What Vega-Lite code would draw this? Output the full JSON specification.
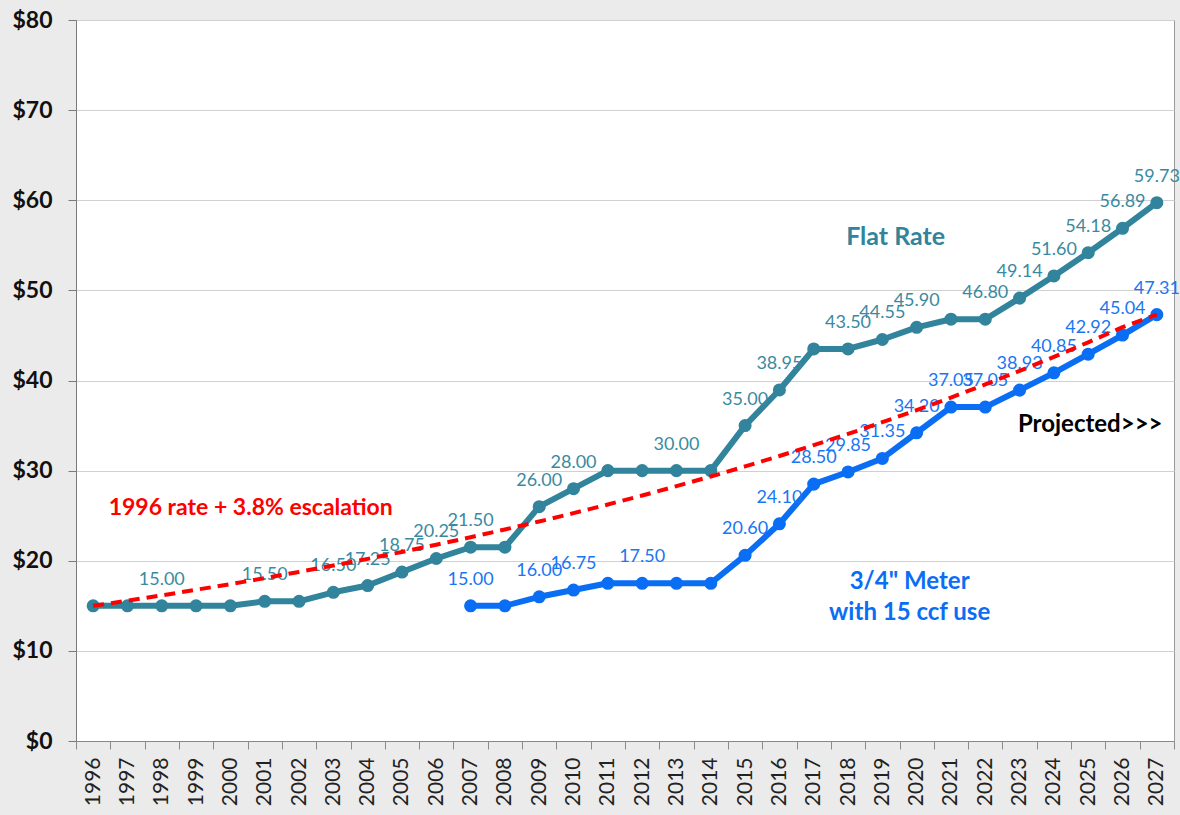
{
  "$schema": "https://vega.github.io/schema/vega-lite/v6.json",
  "width": 1098,
  "height": 721,
  "autosize": {"type": "none"},
  "padding": {"left": 76, "top": 20, "right": 6, "bottom": 74},
  "background": "#ebebeb",
  "view": {"fill": "white", "stroke": "#9a9a9a", "strokeWidth": 1},
  "config": {"font": "Lato"},
  "resolve": {"scale": {"color": "independent"}},
  "datasets": {
    "rates": [
      {"year": "1996", "series": "Flat Rate", "value": 15.00, "label": null},
      {"year": "1997", "series": "Flat Rate", "value": 15.00, "label": null},
      {"year": "1998", "series": "Flat Rate", "value": 15.00, "label": "15.00"},
      {"year": "1999", "series": "Flat Rate", "value": 15.00, "label": null},
      {"year": "2000", "series": "Flat Rate", "value": 15.00, "label": null},
      {"year": "2001", "series": "Flat Rate", "value": 15.50, "label": "15.50"},
      {"year": "2002", "series": "Flat Rate", "value": 15.50, "label": null},
      {"year": "2003", "series": "Flat Rate", "value": 16.50, "label": "16.50"},
      {"year": "2004", "series": "Flat Rate", "value": 17.25, "label": "17.25"},
      {"year": "2005", "series": "Flat Rate", "value": 18.75, "label": "18.75"},
      {"year": "2006", "series": "Flat Rate", "value": 20.25, "label": "20.25"},
      {"year": "2007", "series": "Flat Rate", "value": 21.50, "label": "21.50"},
      {"year": "2008", "series": "Flat Rate", "value": 21.50, "label": null},
      {"year": "2009", "series": "Flat Rate", "value": 26.00, "label": "26.00"},
      {"year": "2010", "series": "Flat Rate", "value": 28.00, "label": "28.00"},
      {"year": "2011", "series": "Flat Rate", "value": 30.00, "label": null},
      {"year": "2012", "series": "Flat Rate", "value": 30.00, "label": null},
      {"year": "2013", "series": "Flat Rate", "value": 30.00, "label": "30.00"},
      {"year": "2014", "series": "Flat Rate", "value": 30.00, "label": null},
      {"year": "2015", "series": "Flat Rate", "value": 35.00, "label": "35.00"},
      {"year": "2016", "series": "Flat Rate", "value": 38.95, "label": "38.95"},
      {"year": "2017", "series": "Flat Rate", "value": 43.50, "label": null},
      {"year": "2018", "series": "Flat Rate", "value": 43.50, "label": "43.50"},
      {"year": "2019", "series": "Flat Rate", "value": 44.55, "label": "44.55"},
      {"year": "2020", "series": "Flat Rate", "value": 45.90, "label": "45.90"},
      {"year": "2021", "series": "Flat Rate", "value": 46.80, "label": null},
      {"year": "2022", "series": "Flat Rate", "value": 46.80, "label": "46.80"},
      {"year": "2023", "series": "Flat Rate", "value": 49.14, "label": "49.14"},
      {"year": "2024", "series": "Flat Rate", "value": 51.60, "label": "51.60"},
      {"year": "2025", "series": "Flat Rate", "value": 54.18, "label": "54.18"},
      {"year": "2026", "series": "Flat Rate", "value": 56.89, "label": "56.89"},
      {"year": "2027", "series": "Flat Rate", "value": 59.73, "label": "59.73"},
      {"year": "2007", "series": "Meter", "value": 15.00, "label": "15.00"},
      {"year": "2008", "series": "Meter", "value": 15.00, "label": null},
      {"year": "2009", "series": "Meter", "value": 16.00, "label": "16.00"},
      {"year": "2010", "series": "Meter", "value": 16.75, "label": "16.75"},
      {"year": "2011", "series": "Meter", "value": 17.50, "label": null},
      {"year": "2012", "series": "Meter", "value": 17.50, "label": "17.50"},
      {"year": "2013", "series": "Meter", "value": 17.50, "label": null},
      {"year": "2014", "series": "Meter", "value": 17.50, "label": null},
      {"year": "2015", "series": "Meter", "value": 20.60, "label": "20.60"},
      {"year": "2016", "series": "Meter", "value": 24.10, "label": "24.10"},
      {"year": "2017", "series": "Meter", "value": 28.50, "label": "28.50"},
      {"year": "2018", "series": "Meter", "value": 29.85, "label": "29.85"},
      {"year": "2019", "series": "Meter", "value": 31.35, "label": "31.35"},
      {"year": "2020", "series": "Meter", "value": 34.20, "label": "34.20"},
      {"year": "2021", "series": "Meter", "value": 37.05, "label": "37.05"},
      {"year": "2022", "series": "Meter", "value": 37.05, "label": "37.05"},
      {"year": "2023", "series": "Meter", "value": 38.93, "label": "38.93"},
      {"year": "2024", "series": "Meter", "value": 40.85, "label": "40.85"},
      {"year": "2025", "series": "Meter", "value": 42.92, "label": "42.92"},
      {"year": "2026", "series": "Meter", "value": 45.04, "label": "45.04"},
      {"year": "2027", "series": "Meter", "value": 47.31, "label": "47.31"}
    ],
    "escalation": [
      {"year": "1996", "value": 15.00}, {"year": "1997", "value": 15.57},
      {"year": "1998", "value": 16.16}, {"year": "1999", "value": 16.78},
      {"year": "2000", "value": 17.41}, {"year": "2001", "value": 18.07},
      {"year": "2002", "value": 18.76}, {"year": "2003", "value": 19.47},
      {"year": "2004", "value": 20.21}, {"year": "2005", "value": 20.98},
      {"year": "2006", "value": 21.78}, {"year": "2007", "value": 22.61},
      {"year": "2008", "value": 23.47}, {"year": "2009", "value": 24.36},
      {"year": "2010", "value": 25.28}, {"year": "2011", "value": 26.24},
      {"year": "2012", "value": 27.24}, {"year": "2013", "value": 28.28},
      {"year": "2014", "value": 29.35}, {"year": "2015", "value": 30.47},
      {"year": "2016", "value": 31.62}, {"year": "2017", "value": 32.83},
      {"year": "2018", "value": 34.07}, {"year": "2019", "value": 35.37},
      {"year": "2020", "value": 36.71}, {"year": "2021", "value": 38.11},
      {"year": "2022", "value": 39.56}, {"year": "2023", "value": 41.06},
      {"year": "2024", "value": 42.62}, {"year": "2025", "value": 44.24},
      {"year": "2026", "value": 45.92}, {"year": "2027", "value": 47.31}
    ]
  },
  "encoding": {
    "x": {
      "field": "year",
      "type": "ordinal",
      "scale": {
        "type": "band",
        "paddingInner": 0,
        "paddingOuter": 0,
        "domain": ["1996","1997","1998","1999","2000","2001","2002","2003","2004","2005","2006","2007","2008","2009","2010","2011","2012","2013","2014","2015","2016","2017","2018","2019","2020","2021","2022","2023","2024","2025","2026","2027"]
      },
      "axis": {
        "title": null,
        "tickBand": "extent",
        "labelAngle": -90,
        "labelAlign": "right",
        "labelBaseline": "middle",
        "labelFont": "Lato",
        "labelFontSize": 21,
        "labelColor": "#222222",
        "labelPadding": 8,
        "tickSize": 8,
        "tickColor": "#8a8a8a",
        "domainColor": "#8a8a8a",
        "grid": false
      }
    },
    "y": {
      "field": "value",
      "type": "quantitative",
      "scale": {"domain": [0, 80], "nice": false},
      "axis": {
        "title": null,
        "values": [0, 10, 20, 30, 40, 50, 60, 70, 80],
        "format": "$.0f",
        "labelFont": "Lato",
        "labelFontWeight": "bold",
        "labelFontSize": 23,
        "labelColor": "#111111",
        "labelPadding": 16,
        "tickSize": 8,
        "tickColor": "#7a7a7a",
        "domainColor": "#7a7a7a",
        "gridColor": "#d0d0d0",
        "gridWidth": 1
      }
    }
  },
  "layer": [
    {
      "data": {"name": "rates"},
      "mark": {"type": "line", "strokeWidth": 6, "strokeJoin": "round"},
      "encoding": {
        "color": {"field": "series", "type": "nominal", "legend": null,
          "scale": {"domain": ["Flat Rate", "Meter"], "range": ["#31849B", "#0A6EF5"]}},
        "detail": {"field": "series"}
      }
    },
    {
      "data": {"name": "rates"},
      "mark": {"type": "point", "filled": true, "opacity": 1, "size": 170},
      "encoding": {
        "color": {"field": "series", "type": "nominal", "legend": null,
          "scale": {"domain": ["Flat Rate", "Meter"], "range": ["#31849B", "#0A6EF5"]}}
      }
    },
    {
      "data": {"name": "rates"},
      "transform": [{"filter": "datum.label != null"}],
      "mark": {"type": "text", "dy": -26, "fontSize": 18, "font": "Lato", "baseline": "middle", "align": "center"},
      "encoding": {
        "text": {"field": "label"},
        "color": {"field": "series", "type": "nominal", "legend": null,
          "scale": {"domain": ["Flat Rate", "Meter"], "range": ["#3A8A9F", "#1A76F2"]}}
      }
    },
    {
      "data": {"name": "escalation"},
      "mark": {"type": "line", "color": "#FF0000", "strokeWidth": 4, "strokeDash": [11, 7]},
      "encoding": {}
    },
    {
      "data": {"values": [{"year": "2020", "value": 55.9, "text": "Flat Rate"}]},
      "mark": {"type": "text", "font": "Lato", "fontWeight": "bold", "fontSize": 25, "baseline": "middle", "align": "center", "dx": -21, "color": "#31849B"},
      "encoding": {"text": {"field": "text"}}
    },
    {
      "data": {"values": [
        {"year": "2020", "value": 17.6, "text": "3/4\" Meter"},
        {"year": "2020", "value": 14.2, "text": "with 15 ccf use"}
      ]},
      "mark": {"type": "text", "font": "Lato", "fontWeight": "bold", "fontSize": 24, "baseline": "middle", "align": "center", "dx": -7, "color": "#0A6EF5"},
      "encoding": {"text": {"field": "text"}}
    },
    {
      "data": {"values": [{"year": "2025", "value": 35.1, "text": "Projected>>>"}]},
      "mark": {"type": "text", "font": "Lato", "fontWeight": "bold", "fontSize": 24, "baseline": "middle", "align": "center", "dx": 2, "color": "#000000"},
      "encoding": {"text": {"field": "text"}}
    },
    {
      "data": {"values": [{"year": "2001", "value": 25.9, "text": "1996 rate + 3.8% escalation"}]},
      "mark": {"type": "text", "font": "Lato", "fontWeight": "bold", "fontSize": 23, "baseline": "middle", "align": "center", "dx": -14, "color": "#FF0000"},
      "encoding": {"text": {"field": "text"}}
    }
  ]
}
